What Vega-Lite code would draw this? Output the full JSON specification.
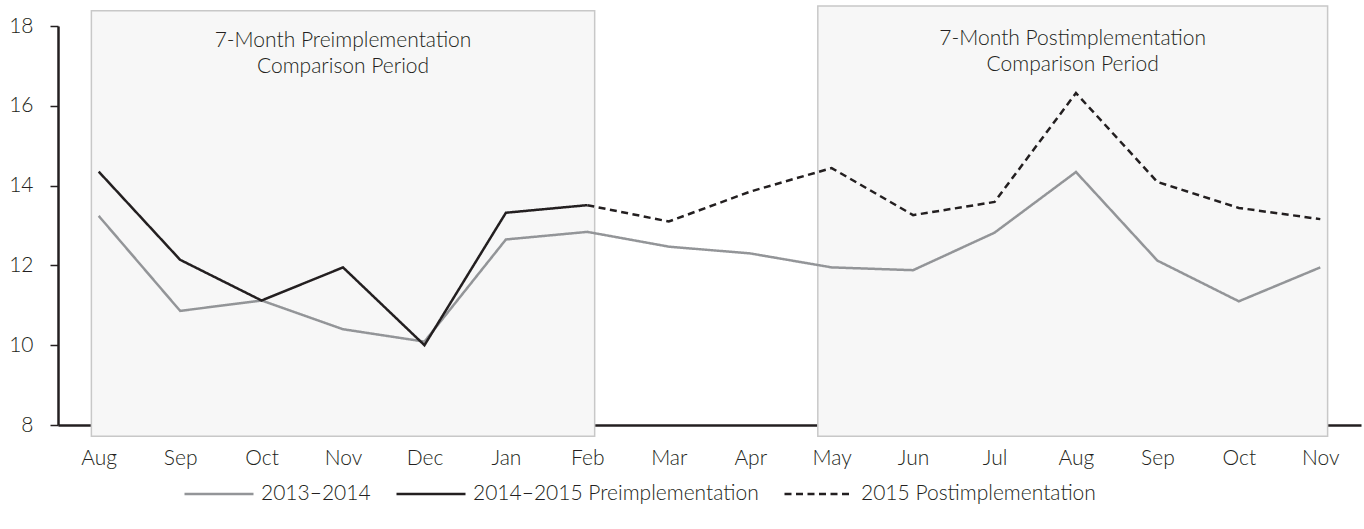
{
  "$schema": "https://vega.github.io/schema/vega-lite/v6.json",
  "width": 1303,
  "height": 399,
  "autosize": {"type": "none"},
  "padding": {"left": 58, "top": 26, "right": 3, "bottom": 104},
  "background": "#ffffff",
  "config": {
    "font": "Lato",
    "view": {"stroke": null},
    "axis": {"grid": false, "labelFont": "Lato", "labelFontWeight": 300, "labelFontSize": 21, "labelColor": "#231f20", "domainColor": "#231f20", "domainWidth": 2.5, "tickColor": "#231f20"},
    "legend": {"labelFont": "Lato", "labelFontWeight": 300, "labelFontSize": 21, "labelColor": "#231f20", "labelLimit": 0}
  },
  "datasets": {
    "series": [
      {"i": 0, "month": "Aug", "series": "2013–2014", "value": 13.24},
      {"i": 1, "month": "Sep", "series": "2013–2014", "value": 10.86},
      {"i": 2, "month": "Oct", "series": "2013–2014", "value": 11.12},
      {"i": 3, "month": "Nov", "series": "2013–2014", "value": 10.4},
      {"i": 4, "month": "Dec", "series": "2013–2014", "value": 10.09},
      {"i": 5, "month": "Jan", "series": "2013–2014", "value": 12.65},
      {"i": 6, "month": "Feb", "series": "2013–2014", "value": 12.84},
      {"i": 7, "month": "Mar", "series": "2013–2014", "value": 12.47},
      {"i": 8, "month": "Apr", "series": "2013–2014", "value": 12.3},
      {"i": 9, "month": "May", "series": "2013–2014", "value": 11.95},
      {"i": 10, "month": "Jun", "series": "2013–2014", "value": 11.88},
      {"i": 11, "month": "Jul", "series": "2013–2014", "value": 12.82},
      {"i": 12, "month": "Aug", "series": "2013–2014", "value": 14.34},
      {"i": 13, "month": "Sep", "series": "2013–2014", "value": 12.12},
      {"i": 14, "month": "Oct", "series": "2013–2014", "value": 11.1},
      {"i": 15, "month": "Nov", "series": "2013–2014", "value": 11.95},
      {"i": 0, "month": "Aug", "series": "2014–2015 Preimplementation", "value": 14.35},
      {"i": 1, "month": "Sep", "series": "2014–2015 Preimplementation", "value": 12.14},
      {"i": 2, "month": "Oct", "series": "2014–2015 Preimplementation", "value": 11.12},
      {"i": 3, "month": "Nov", "series": "2014–2015 Preimplementation", "value": 11.95},
      {"i": 4, "month": "Dec", "series": "2014–2015 Preimplementation", "value": 10.0},
      {"i": 5, "month": "Jan", "series": "2014–2015 Preimplementation", "value": 13.32},
      {"i": 6, "month": "Feb", "series": "2014–2015 Preimplementation", "value": 13.51},
      {"i": 6, "month": "Feb", "series": "2015 Postimplementation", "value": 13.51},
      {"i": 7, "month": "Mar", "series": "2015 Postimplementation", "value": 13.1},
      {"i": 8, "month": "Apr", "series": "2015 Postimplementation", "value": 13.85},
      {"i": 9, "month": "May", "series": "2015 Postimplementation", "value": 14.44},
      {"i": 10, "month": "Jun", "series": "2015 Postimplementation", "value": 13.26},
      {"i": 11, "month": "Jul", "series": "2015 Postimplementation", "value": 13.59},
      {"i": 12, "month": "Aug", "series": "2015 Postimplementation", "value": 16.32},
      {"i": 13, "month": "Sep", "series": "2015 Postimplementation", "value": 14.09},
      {"i": 14, "month": "Oct", "series": "2015 Postimplementation", "value": 13.44},
      {"i": 15, "month": "Nov", "series": "2015 Postimplementation", "value": 13.16}
    ],
    "boxes": [
      {"start": -0.09, "end": 6.09, "low": 7.72, "high": 18.38, "cx": 3.0, "ty": 17.9, "label": "7-Month Preimplementation\nComparison Period"},
      {"start": 8.83, "end": 15.09, "low": 7.72, "high": 18.5, "cx": 11.96, "ty": 17.95, "label": "7-Month Postimplementation\nComparison Period"}
    ]
  },
  "layer": [
    {
      "data": {"name": "boxes"},
      "mark": {"type": "rect", "fill": "#f7f7f7", "stroke": "#c8c8c8", "strokeWidth": 1.5, "clip": false},
      "encoding": {
        "x": {"field": "start", "type": "quantitative", "scale": {"domain": [-0.5, 15.5], "nice": false, "zero": false},
          "axis": {"values": [0,1,2,3,4,5,6,7,8,9,10,11,12,13,14,15], "labelExpr": "['Aug','Sep','Oct','Nov','Dec','Jan','Feb','Mar','Apr','May','Jun','Jul','Aug','Sep','Oct','Nov'][datum.value]", "ticks": false, "tickSize": 0, "labelPadding": 22, "title": null, "labelFlush": false, "labelOverlap": false}},
        "x2": {"field": "end"},
        "y": {"field": "low", "type": "quantitative", "scale": {"domain": [8, 18], "nice": false, "zero": false},
          "axis": {"values": [8,10,12,14,16,18], "tickSize": 8, "tickWidth": 1.5, "labelPadding": 17, "title": null}},
        "y2": {"field": "high"}
      }
    },
    {
      "data": {"name": "boxes"},
      "mark": {"type": "text", "baseline": "top", "align": "center", "fontSize": 21, "fontWeight": 300, "font": "Lato", "color": "#231f20", "lineBreak": "\n", "lineHeight": 26, "clip": false},
      "encoding": {
        "x": {"field": "cx", "type": "quantitative"},
        "y": {"field": "ty", "type": "quantitative"},
        "text": {"field": "label"}
      }
    },
    {
      "data": {"name": "series"},
      "mark": {"type": "line", "strokeWidth": 2.5, "clip": false},
      "encoding": {
        "x": {"field": "i", "type": "quantitative"},
        "y": {"field": "value", "type": "quantitative"},
        "detail": {"field": "series"},
        "color": {"field": "series", "type": "nominal",
          "scale": {"domain": ["2013–2014", "2014–2015 Preimplementation", "2015 Postimplementation"], "range": ["#939598", "#231f20", "#231f20"]},
          "legend": {"orient": "none", "legendX": 125, "legendY": 432, "direction": "horizontal", "title": null, "symbolType": "stroke", "symbolSize": 4761, "symbolStrokeWidth": 2.5, "labelOffset": 6, "columnPadding": 20, "labelLimit": 0}},
        "strokeDash": {"field": "series", "type": "nominal",
          "scale": {"domain": ["2013–2014", "2014–2015 Preimplementation", "2015 Postimplementation"], "range": [[1, 0], [1, 0], [7, 4.5]]},
          "legend": null}
      }
    }
  ]
}
